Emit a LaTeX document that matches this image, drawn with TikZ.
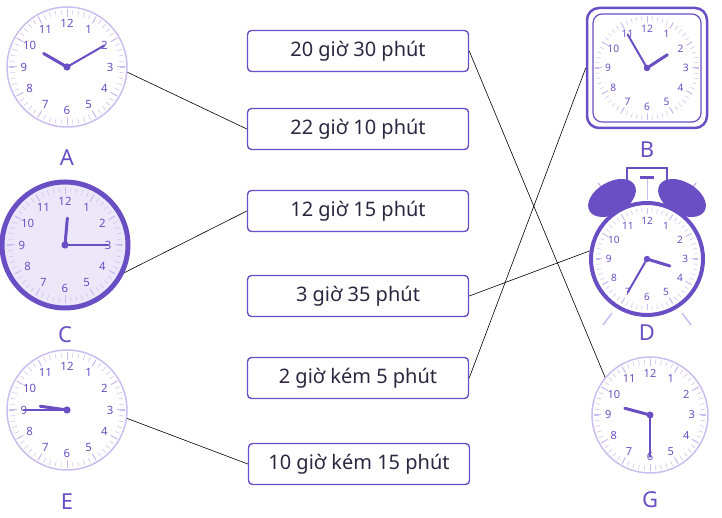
\documentclass[tikz,border=0pt]{standalone}
\usepackage{fontspec}
\setmainfont{Noto Sans}
\usetikzlibrary{calc}
\definecolor{pur}{HTML}{6A4FC4}
\definecolor{lpur}{HTML}{C9BEEF}
\definecolor{txt}{HTML}{2E2640}
\tikzset{
 tbox/.style={draw=pur,line width=1.4pt,rounded corners=4pt,minimum width=221pt,minimum height=41pt,font=\fontsize{20}{20}\selectfont,text=txt,fill=white},
 lab/.style={font=\fontsize{22}{22}\selectfont,text=pur},
 conn/.style={black,line width=0.6pt},
}
\newcommand\clkface[5]{% x y r hour-angle minute-angle
 \begin{scope}[shift={(#1,#2)}]
 \pgfmathsetmacro\fsz{0.19*#3}
 \foreach \a in {0,6,...,354} \draw[lpur,line width=0.5pt] (\a:0.88*#3) -- (\a:0.96*#3);
 \foreach \a in {0,30,...,330} \draw[lpur,line width=1pt] (\a:0.84*#3) -- (\a:0.97*#3);
 \foreach \n in {1,...,12} \node[text=pur,font=\bfseries\fontsize{\fsz}{\fsz}\selectfont,inner sep=0] at ({90-30*\n}:0.72*#3) {\n};
 \draw[pur,line width=3pt,line cap=round] (0,0) -- (#4:0.45*#3);
 \draw[pur,line width=2pt,line cap=round] (0,0) -- (#5:0.72*#3);
 \fill[pur] (0,0) circle (0.06*#3);
 \end{scope}}
\begin{document}
\begin{tikzpicture}[x=1pt,y=1pt]
\useasboundingbox (0,0) rectangle (722,518);
% boxes
\node[tbox] (b1) at (358,467) {20 giờ 30 phút};
\node[tbox] (b2) at (358,389) {22 giờ 10 phút};
\node[tbox] (b3) at (358,307) {12 giờ 15 phút};
\node[tbox] (b4) at (358,222) {3 giờ 35 phút};
\node[tbox] (b5) at (358,140) {2 giờ kém 5 phút};
\node[tbox] (b6) at (359,54) {10 giờ kém 15 phút};
% clock A
\node[circle,draw=lpur,line width=1.5pt,minimum size=120pt,inner sep=0,fill=white] (A) at (67,451) {};
\clkface{67}{451}{60}{150}{30}
\node[lab] (lA) at (67,360) {A};
% clock C
\node[circle,draw=pur,line width=5pt,minimum size=126pt,inner sep=0,fill=lpur!35] (C) at (65,273) {};
\clkface{65}{273}{60}{85}{0}
\node[lab] (lC) at (65,183) {C};
% clock E
\node[circle,draw=lpur,line width=1.5pt,minimum size=120pt,inner sep=0,fill=white] (E) at (67,108) {};
\clkface{67}{108}{60}{172}{180}
\node[lab] (lE) at (67,16) {E};
% clock B
\node[draw=pur,line width=2.5pt,rounded corners=12pt,minimum size=120pt,inner sep=0] (B) at (647,450) {};
\node[draw=pur,line width=1.2pt,rounded corners=9pt,minimum size=108pt,inner sep=0] (Bin) at (647,450) {};
\clkface{647}{450}{54}{33}{120}
\node[lab] (lB) at (647,368) {B};
% clock D
\draw[pur,line width=2pt] (627,330) -- (627,350) -- (667,350) -- (667,330);
\draw[lpur,line width=1pt] (647,318) -- (647,340);
\draw[pur,line width=3pt] (640,340) -- (654,340);
\draw[lpur,line width=1.5pt] (598,335) -- (612,318) (696,335) -- (682,318);
\fill[pur,rotate around={30:(612,320)}] (612,320) ellipse (26pt and 16pt);
\fill[pur,rotate around={-30:(682,320)}] (682,320) ellipse (26pt and 16pt);
\draw[lpur,line width=1.5pt] (612,205) -- (603,193) (682,205) -- (691,193);
\node[circle,draw=pur,line width=4pt,minimum size=112pt,inner sep=0,fill=white] (D) at (647,259) {};
\clkface{647}{259}{53}{-17}{-120}
\node[lab] (lD) at (647,185) {D};
% clock G
\node[circle,draw=lpur,line width=1.5pt,minimum size=116pt,inner sep=0,fill=white] (G) at (650,103) {};
\clkface{650}{103}{58}{165}{-90}
\node[lab] (lG) at (650,18) {G};
% connectors
\draw[conn] (A.-5) -- (b2.west);
\draw[conn] (C.-25) -- (b3.west);
\draw[conn] (E.-8) -- (b6.west);
\draw[conn] (b1.east) -- (G.140);
\draw[conn] (b4.east) -- (D.172);
\draw[conn] (b5.east) -- (B.west);
\end{tikzpicture}
\end{document}
